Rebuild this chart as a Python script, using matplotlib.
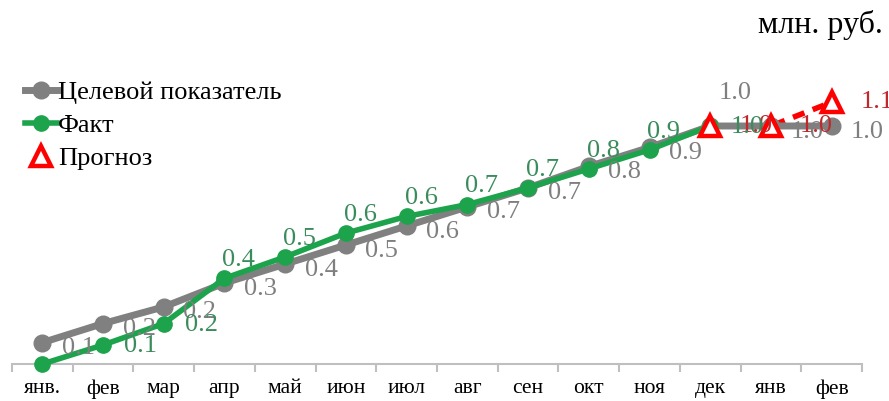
import matplotlib
matplotlib.use('Agg')
import matplotlib.pyplot as plt
from matplotlib.lines import Line2D

# ---- data ----
months = ['янв.', 'фев', 'мар', 'апр', 'май', 'июн', 'июл', 'авг', 'сен', 'окт', 'ноя', 'дек', 'янв', 'фев']
target = [0.09, 0.17, 0.24, 0.34, 0.42, 0.50, 0.58, 0.66, 0.74, 0.83, 0.91, 1.00, 1.00, 1.00]
fact = [0.00, 0.08, 0.17, 0.36, 0.45, 0.55, 0.62, 0.67, 0.74, 0.82, 0.90, 1.00]
forecast_months = ['дек', 'янв', 'фев']
forecast = [1.00, 1.00, 1.10]
unit = 'млн. руб.'
legend_labels = ['Целевой показатель', 'Факт', 'Прогноз']

GRAY = '#808080'
GREEN = '#1ea34d'
RED = '#ff0000'
GRAY_T = '#7f7f7f'
GREEN_T = '#3a8c5c'
RED_T = '#c0282d'
FONT = 'Liberation Serif'

plt.rcParams['font.family'] = [FONT, 'DejaVu Serif']

fig = plt.figure(figsize=(8.89, 4.01), dpi=100)
ax = fig.add_axes([12 / 889, 37 / 401, 850 / 889, (1.2 * 238) / 401])

x_t = list(range(len(target)))
x_f = list(range(len(fact)))
x_p = list(range(len(months) - len(forecast), len(months)))

# forecast line (below)
ax.plot(x_p, forecast, color=RED, lw=4, ls=(0, (2.2, 1.6)), zorder=2)
# target
ax.plot(x_t, target, color=GRAY, lw=5, marker='o', ms=12, mfc=GRAY, mec=GRAY, zorder=3)
# fact
ax.plot(x_f, fact, color=GREEN, lw=4, marker='o', ms=11, mfc=GREEN, mec=GREEN, zorder=4)
# forecast markers
ax.plot(x_p, forecast, ls='none', marker='^', ms=14, mfc='white', mec=RED, mew=3.2, zorder=6)

lab_fs = 19

# target labels
for i, v in enumerate(target):
    if i == 11:
        off = (6, 24)
    else:
        off = (14, -4)
    ax.annotate(f'{v:.1f}', (i, v), xytext=off, textcoords='offset points',
                ha='left', va='center', fontsize=lab_fs, color=GRAY_T, zorder=7)

# forecast labels
for i, v in zip(x_p, forecast):
    ax.annotate(f'{v:.1f}', (i, v), xytext=(21, 0), textcoords='offset points',
                ha='left', va='center', fontsize=lab_fs, color=RED_T, zorder=7)

# fact labels
for i, v in enumerate(fact):
    if v <= 0:
        continue
    if i in (1, 2, 11):
        off = (15, -1)
    else:
        off = (-1.5, 13)
    ax.annotate(f'{v:.1f}', (i, v), xytext=off, textcoords='offset points',
                ha='left', va='center', fontsize=lab_fs, color=GREEN_T, zorder=8)

ax.set_xlim(-0.5, len(months) - 0.5)
ax.set_ylim(0, 1.2)
for s in ['top', 'right', 'left']:
    ax.spines[s].set_visible(False)
ax.spines['bottom'].set_color('#bfbfbf')
ax.spines['bottom'].set_linewidth(1.5)
ax.set_yticks([])
ax.set_xticks(range(len(months)))
ax.set_xticklabels(months, fontsize=15.5)
ax.tick_params(axis='x', which='major', length=0, pad=11)
ax.set_xticks([i - 0.5 for i in range(len(months) + 1)], minor=True)
ax.tick_params(axis='x', which='minor', length=6, width=1.5, color='#bfbfbf')
for ln in ax.lines:
    ln.set_clip_on(False)

handles = [
    Line2D([], [], color=GRAY, lw=5, marker='o', ms=12),
    Line2D([], [], color=GREEN, lw=4, marker='o', ms=11),
    Line2D([], [], color=RED, lw=0, marker='^', ms=14, mfc='white', mec=RED, mew=3.2),
]
fig.legend(handles, legend_labels, loc='upper left', bbox_to_anchor=(25 / 889, 1 - 81 / 401),
           frameon=False, fontsize=19, handlelength=1.2, handletextpad=0.05,
           labelspacing=0.36, borderaxespad=0, borderpad=0)

fig.text(883 / 889, 1 - 25 / 401, unit, ha='right', va='center', fontsize=23, color='black')

fig.savefig('out.png', dpi=100)
